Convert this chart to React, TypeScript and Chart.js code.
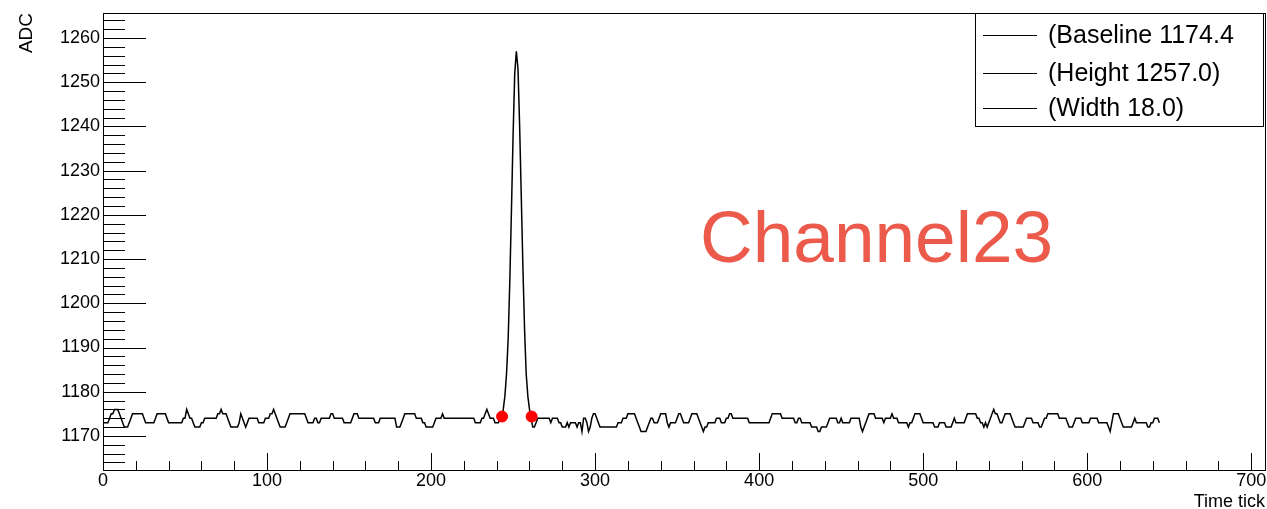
import React, { useEffect, useRef } from "react";
import { Chart, registerables } from "chart.js";

Chart.register(...registerables);

// ---- data ----
// ADC samples, time ticks 0..242 (pre-pulse baseline)
const preNoise = [
  1173,1173,1173,1173,1174,1175,1175,1176,1176,1176,
  1175,1174,1173,1172,1172,1172,1173,1174,1175,1175,
  1175,1175,1175,1175,1175,1174,1173,1173,1173,1173,
  1173,1173,1174,1175,1175,1175,1175,1175,1175,1174,
  1173,1173,1173,1173,1173,1173,1173,1173,1173,1174,
  1174,1176,1175,1174,1174,1173,1172,1172,1172,1172,
  1173,1173,1174,1174,1174,1174,1174,1174,1174,1174,
  1175,1175,1176,1175,1175,1175,1174,1173,1172,1172,
  1172,1172,1172,1173,1175,1174,1173,1172,1173,1174,
  1174,1174,1174,1174,1174,1173,1173,1173,1173,1174,
  1174,1174,1175,1175,1176,1175,1174,1173,1172,1172,
  1172,1172,1173,1174,1175,1175,1175,1175,1175,1175,
  1175,1175,1175,1175,1174,1173,1173,1173,1173,1174,
  1174,1173,1173,1174,1174,1174,1174,1174,1174,1175,
  1175,1174,1174,1174,1174,1174,1174,1173,1173,1173,
  1173,1173,1174,1175,1175,1175,1174,1174,1174,1174,
  1174,1174,1174,1174,1174,1174,1173,1173,1173,1174,
  1174,1174,1174,1174,1174,1174,1174,1174,1174,1172,
  1172,1172,1173,1174,1175,1175,1175,1175,1175,1175,
  1175,1174,1174,1174,1174,1173,1173,1172,1172,1172,
  1172,1172,1173,1174,1174,1174,1174,1175,1174,1174,
  1174,1174,1174,1174,1174,1174,1174,1174,1174,1174,
  1174,1174,1174,1174,1174,1174,1174,1173,1173,1173,
  1173,1174,1174,1175,1176,1175,1174,1174,1174,1173,
  1173,1173,1174,
];
// ADC samples, time ticks 243..261 (pulse)
const pulse = [
  1174,1176,1179,1184,1192,1205,1221,1238,1252,1257,
  1253,1240,1224,1208,1194,1184,1179,1176,1174,
];
// ADC samples, time ticks 262..644 (post-pulse baseline)
const postNoise = [
  1172,1172,1173,1174,1174,1174,1174,1174,
  1174,1174,1174,1173,1174,1174,1174,1174,1173,1173,
  1172,1172,1172,1173,1172,1173,1173,1173,1173,1172,
  1173,1173,1171,1174,1174,1173,1171,1172,1174,1175,
  1175,1174,1173,1172,1172,1172,1172,1172,1172,1172,
  1172,1172,1172,1172,1173,1173,1173,1174,1174,1174,
  1175,1175,1175,1175,1175,1174,1173,1172,1171,1171,
  1171,1171,1172,1173,1174,1174,1173,1173,1173,1174,
  1175,1175,1175,1175,1173,1172,1173,1173,1173,1173,
  1174,1175,1175,1174,1173,1173,1173,1173,1174,1175,
  1175,1175,1175,1174,1173,1172,1171,1172,1172,1173,
  1173,1173,1173,1173,1174,1174,1174,1173,1173,1173,
  1174,1174,1175,1175,1174,1174,1174,1174,1174,1174,
  1174,1174,1174,1174,1173,1173,1173,1173,1173,1173,
  1173,1173,1173,1173,1173,1173,1173,1174,1175,1175,
  1175,1175,1175,1175,1174,1174,1174,1174,1174,1174,
  1174,1174,1173,1173,1174,1174,1173,1173,1173,1173,
  1173,1173,1172,1172,1172,1172,1171,1171,1172,1172,
  1172,1172,1173,1174,1174,1174,1174,1174,1173,1173,
  1174,1173,1173,1173,1173,1173,1174,1174,1174,1174,
  1174,1174,1172,1171,1172,1173,1174,1175,1175,1175,
  1175,1174,1174,1174,1174,1174,1173,1174,1174,1174,
  1174,1175,1174,1174,1174,1173,1173,1173,1173,1173,
  1173,1172,1173,1173,1174,1175,1175,1175,1175,1174,
  1173,1173,1173,1173,1173,1173,1173,1172,1172,1172,
  1173,1173,1173,1173,1172,1172,1172,1172,1173,1174,
  1173,1173,1173,1173,1173,1173,1174,1175,1175,1175,
  1175,1175,1175,1174,1174,1173,1173,1172,1173,1172,
  1173,1174,1175,1176,1175,1175,1174,1173,1173,1174,
  1175,1175,1175,1175,1174,1173,1172,1172,1172,1172,
  1172,1172,1173,1174,1174,1174,1174,1173,1173,1173,
  1173,1172,1172,1173,1174,1174,1175,1175,1175,1175,
  1175,1175,1175,1174,1174,1174,1174,1174,1173,1172,
  1172,1172,1173,1174,1174,1174,1174,1173,1173,1173,
  1173,1173,1174,1174,1174,1174,1174,1173,1173,1173,
  1173,1173,1173,1172,1171,1173,1175,1175,1175,1175,
  1174,1173,1172,1172,1172,1172,1172,1172,1173,1174,
  1173,1173,1173,1173,1173,1173,1173,1172,1172,1173,
  1173,1174,1174,1174,1173,
];
const firstTick = 0;

// Pulse edge markers (time tick) at the baseline level
const markerTicks = [243.3, 261.3];
const baselineLevel = 1174.4;

const legendLabels = ["(Baseline 1174.4", "(Height 1257.0)", "(Width 18.0)"];
const channelLabel = "Channel23";
const xTitle = "Time tick";
const yTitle = "ADC";

const xTickValues = [0, 100, 200, 300, 400, 500, 600, 700];
const yTickValues = [1170, 1180, 1190, 1200, 1210, 1220, 1230, 1240, 1250, 1260];
const xRange = [0, 709];
const yRange = [1162.3, 1265.65];

const FONT = '"Liberation Sans", Arial, Helvetica, sans-serif';

const zeroPad = (s: any) => {
  s.paddingLeft = 0;
  s.paddingRight = 0;
  s.paddingTop = 0;
  s.paddingBottom = 0;
};

const rootStylePlugin = {
  id: "rootStyle",
  afterDatasetsDraw(chart: any) {
    const { ctx, chartArea: a, scales } = chart;
    const xs = scales.x;
    const ys = scales.y;
    ctx.save();
    ctx.strokeStyle = "#000";
    ctx.lineWidth = 1;

    // frame
    ctx.strokeRect(Math.round(a.left) + 0.5, Math.round(a.top) + 0.5,
      Math.round(a.right - a.left) - 1, Math.round(a.bottom - a.top));

    // y ticks (major every 10, minor every 2), drawn inward
    ctx.beginPath();
    for (let v = Math.ceil(yRange[0] / 2) * 2; v <= yRange[1]; v += 2) {
      const len = v % 10 === 0 ? 43 : 22;
      const y = Math.round(ys.getPixelForValue(v)) + 0.5;
      ctx.moveTo(a.left, y);
      ctx.lineTo(a.left + len, y);
    }
    // x ticks (major every 100, minor every 20)
    for (let v = 0; v <= 700; v += 20) {
      const len = v % 100 === 0 ? 17 : 9;
      const x = Math.round(xs.getPixelForValue(v)) + 0.5;
      ctx.moveTo(x, a.bottom);
      ctx.lineTo(x, a.bottom - len);
    }
    ctx.stroke();

    // legend box
    ctx.fillStyle = "#fff";
    ctx.fillRect(975.5, 13.5, 288, 113);
    ctx.strokeRect(975.5, 13.5, 288, 113);
    const rowY = [35, 73, 108];
    ctx.fillStyle = "#000";
    ctx.font = `25px ${FONT}`;
    ctx.textAlign = "left";
    ctx.textBaseline = "middle";
    legendLabels.forEach((lbl, i) => {
      ctx.beginPath();
      ctx.moveTo(983, rowY[i] + 0.5);
      ctx.lineTo(1037, rowY[i] + 0.5);
      ctx.stroke();
      ctx.fillText(lbl, 1048, rowY[i] + 1);
    });

    // channel label
    ctx.fillStyle = "#eb5a4a";
    ctx.font = `73px ${FONT}`;
    ctx.textBaseline = "alphabetic";
    ctx.textAlign = "left";
    ctx.fillText(channelLabel, 700, 262);

    // axis titles
    ctx.fillStyle = "#000";
    ctx.font = `18px ${FONT}`;
    ctx.textAlign = "right";
    ctx.fillText(xTitle, 1265, 507);
    ctx.save();
    ctx.translate(32, 13);
    ctx.rotate(-Math.PI / 2);
    ctx.textAlign = "right";
    ctx.font = `19px ${FONT}`;
    ctx.fillText(yTitle, 0, 0);
    ctx.restore();

    ctx.restore();
  },
};

export default function App() {
  const canvasRef = useRef<HTMLCanvasElement | null>(null);

  useEffect(() => {
    const canvas = canvasRef.current;
    if (!canvas) return;
    const samples = [...preNoise, ...pulse, ...postNoise];
    const waveform = samples.map((v, i) => ({ x: firstTick + i, y: v }));
    const markers = markerTicks.map((t) => ({ x: t, y: baselineLevel }));

    const tickFont = { family: FONT, size: 18 };

    const chart = new Chart(canvas, {
      type: "line",
      data: {
        datasets: [
          {
            type: "line",
            data: waveform,
            borderColor: "#000",
            borderWidth: 1.5,
            pointRadius: 0,
            tension: 0,
            order: 2,
          },
          {
            type: "scatter",
            data: markers,
            backgroundColor: "#ff0000",
            borderColor: "#ff0000",
            borderWidth: 1,
            pointRadius: 5.5,
            showLine: false,
            order: 1,
          },
        ],
      } as any,
      options: {
        responsive: false,
        maintainAspectRatio: false,
        animation: false,
        devicePixelRatio: 1,
        events: [],
        layout: { autoPadding: false, padding: { left: 0, top: 13, right: 1, bottom: 0 } },
        plugins: { legend: { display: false }, tooltip: { enabled: false } },
        scales: {
          x: {
            type: "linear",
            min: xRange[0],
            max: xRange[1],
            grid: { display: false, drawTicks: false },
            border: { display: false },
            afterBuildTicks: (s: any) => {
              s.ticks = xTickValues.map((v) => ({ value: v }));
            },
            afterFit: (s: any) => {
              s.height = 39;
              zeroPad(s);
            },
            ticks: {
              autoSkip: false,
              maxRotation: 0,
              minRotation: 0,
              padding: 0,
              color: "#000",
              font: tickFont,
              callback: (v: any) => String(v),
            },
          },
          y: {
            type: "linear",
            min: yRange[0],
            max: yRange[1],
            grid: { display: false, drawTicks: false },
            border: { display: false },
            afterBuildTicks: (s: any) => {
              s.ticks = yTickValues.map((v) => ({ value: v }));
            },
            afterFit: (s: any) => {
              s.width = 103;
              zeroPad(s);
            },
            ticks: {
              autoSkip: false,
              padding: 3,
              color: "#000",
              font: tickFont,
              callback: (v: any) => String(v),
            },
          },
        },
      } as any,
      plugins: [rootStylePlugin],
    });

    return () => chart.destroy();
  }, []);

  return (
    <div style={{ position: "fixed", left: 0, top: 0, width: 1267, height: 509, background: "#fff" }}>
      <canvas ref={canvasRef} width={1267} height={509} style={{ display: "block" }} />
    </div>
  );
}
